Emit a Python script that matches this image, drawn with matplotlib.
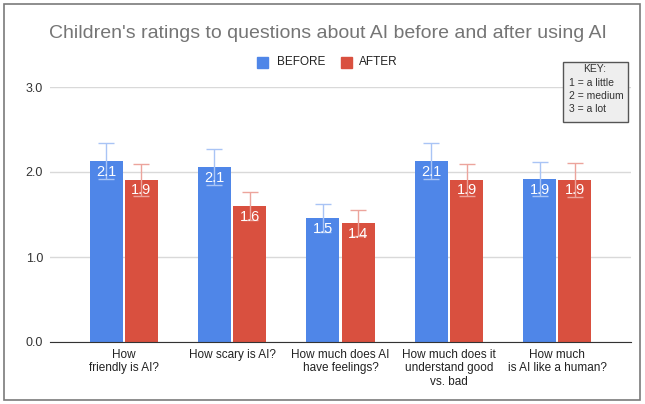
import matplotlib.pyplot as plt
import numpy as np
from matplotlib.patches import Rectangle

plt.rcParams['font.family'] = ['Liberation Sans', 'DejaVu Sans']

questions = ["How\nfriendly is AI?", "How scary is AI?", "How much does AI\nhave feelings?",
             "How much does it\nunderstand good\nvs. bad", "How much\nis AI like a human?"]
before = [2.13, 2.06, 1.46, 2.13, 1.92]
after = [1.91, 1.60, 1.40, 1.91, 1.91]
before_err = [0.21, 0.21, 0.16, 0.21, 0.20]
after_err = [0.19, 0.17, 0.15, 0.19, 0.20]
yticks = [0.0, 1.0, 2.0, 3.0]

BLUE = '#4f86e8'
RED = '#d9503f'

fig = plt.figure(figsize=(6.45, 4.04), dpi=100)
ax = fig.add_axes([50 / 645, 1 - 342 / 404, 581 / 645, 255 / 404])

x = np.arange(len(questions))
w = 0.305
gap = 0.01
ax.bar(x - w / 2 - gap, before, w, color=BLUE, zorder=2)
ax.bar(x + w / 2 + gap, after, w, color=RED, zorder=2)
ax.errorbar(x - w / 2 - gap, before, yerr=before_err, fmt='none', ecolor='#a9c4f5',
            elinewidth=1, capsize=6, capthick=1, zorder=3)
ax.errorbar(x + w / 2 + gap, after, yerr=after_err, fmt='none', ecolor='#eca49c',
            elinewidth=1, capsize=6, capthick=1, zorder=3)

for xi, v in zip(x - w / 2 - gap, before):
    ax.text(xi, v - 0.045, f"{v:.1f}", color='white', ha='center', va='top', fontsize=10.5, zorder=4)
for xi, v in zip(x + w / 2 + gap, after):
    ax.text(xi, v - 0.045, f"{v:.1f}", color='white', ha='center', va='top', fontsize=10.5, zorder=4)

ax.set_xlim(-0.68, len(questions) - 1 + 0.68)
ax.set_ylim(0, 3)
ax.set_yticks(yticks)
ax.set_yticklabels([f"{t:.1f}" for t in yticks], fontsize=9, color='#333333')
ax.set_xticks(x)
ax.set_xticklabels(questions, fontsize=8.5, color='#222222', linespacing=1.15)
ax.tick_params(axis='both', length=0, pad=5)
ax.grid(axis='y', color='#d9d9d9', linewidth=1, zorder=0)
for s in ['top', 'right', 'left']:
    ax.spines[s].set_visible(False)
ax.spines['bottom'].set_color('#333333')
ax.spines['bottom'].set_zorder(5)

fig.text(328 / 645, 1 - 33 / 404, "Children's ratings to questions about AI before and after using AI",
         ha='center', va='center', fontsize=14, color='#757575')

# legend
fig.patches.append(Rectangle((257 / 645, 1 - 68 / 404), 11 / 645, 11 / 404, color=BLUE,
                             transform=fig.transFigure))
fig.text(277 / 645, 1 - 62 / 404, "BEFORE", fontsize=8.5, color='#222222', va='center')
fig.patches.append(Rectangle((341 / 645, 1 - 68 / 404), 11 / 645, 11 / 404, color=RED,
                             transform=fig.transFigure))
fig.text(359 / 645, 1 - 62 / 404, "AFTER", fontsize=8.5, color='#222222', va='center')

# key box
fig.patches.append(Rectangle((563 / 645, 1 - 122 / 404), 65 / 645, 60 / 404, facecolor='#eeeeee',
                             edgecolor='#555555', linewidth=1, transform=fig.transFigure, zorder=10))
fig.text(595 / 645, 1 - 69 / 404, "KEY:", fontsize=7.5, color='#333333', ha='center', va='center', zorder=11)
for i, line in enumerate(["1 = a little", "2 = medium", "3 = a lot"]):
    fig.text(569 / 645, 1 - (83 + 13 * i) / 404, line, fontsize=7.5, color='#333333', va='center', zorder=11)

# outer frame
fig.patches.append(Rectangle((4 / 645, 4 / 404), 636 / 645, 396 / 404, fill=False,
                             edgecolor='#7a7a7a', linewidth=1.2, transform=fig.transFigure))

fig.savefig('out.png', dpi=100)
